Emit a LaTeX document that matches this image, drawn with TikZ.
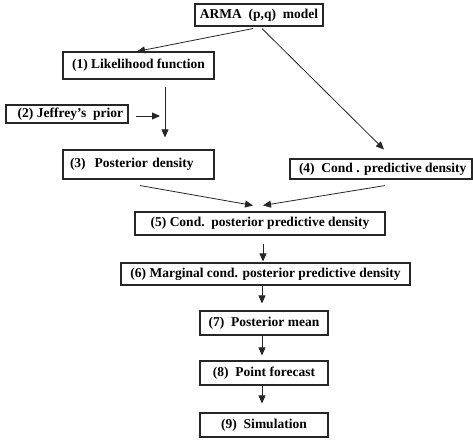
\documentclass[tikz,border=0pt]{standalone}
\usepackage{fontspec}
\setmainfont{Liberation Serif}
\usetikzlibrary{arrows.meta}
\begin{document}
\begin{tikzpicture}[x=1pt,y=-1pt,
  box/.style={draw=black!85,line width=1.1pt,inner sep=0pt,font=\fontsize{13.5}{15}\selectfont\bfseries},
  arr/.style={draw=black!85,line width=0.8pt,-{Triangle[length=8pt,width=7pt]}}]
\useasboundingbox (0,0) rectangle (473,444);
\node[box,minimum width=128pt,minimum height=22pt] (arma) at (259,15) {ARMA\ \ (p,q)\ \ model};
\node[box,minimum width=151pt,minimum height=27pt] (l1) at (138.5,65.5) {(1) Likelihood function};
\node[box,minimum width=122pt,minimum height=18pt] (j2) at (67,114) {\ \ (2) Jeffrey’s\ \ prior};
\node[box,minimum width=151pt,minimum height=29pt,text width=137pt,align=left] (p3) at (138.5,164.5) {(3)\ \ Posterior density};
\node[box,minimum width=182pt,minimum height=20pt] (c4) at (381,169) {\ (4)\ \ Cond . predictive density};
\node[box,minimum width=250pt,minimum height=23pt] (c5) at (260,223.5) {(5) Cond.\ \ posterior predictive density};
\node[box,minimum width=289pt,minimum height=22pt] (m6) at (265.5,274) {(6) Marginal cond. posterior predictive density};
\node[box,minimum width=128pt,minimum height=24pt] (p7) at (264,323) {(7)\ \ Posterior mean};
\node[box,minimum width=128pt,minimum height=24pt] (f8) at (264,373) {(8)\ \ Point forecast};
\node[box,minimum width=128pt,minimum height=24pt] (s9) at (264,425) {(9)\ \ Simulation};
\coordinate (join) at (165,116);
\draw[arr] ([shift={(-6,2)}]arma.south) -- ([xshift=-1.5]l1.north);
\draw[arr] ([shift={(3,2)}]arma.south) -- ([shift={(3,-9)}]c4.north);
\draw[arr] ([shift={(26.5,7)}]l1.south) -- ([shift={(26.5,-12)}]p3.north);
\draw[arr] ([shift={(7,2)}]j2.east) -- ([xshift=-5]join);
\draw[arr] ([shift={(1.5,6)}]p3.south) -- ([shift={(-7,-6)}]c5.north);
\draw[arr] ([shift={(4,6)}]c4.south) -- ([shift={(3,-6)}]c5.north);
\draw[arr] ([shift={(3,8)}]c5.south) -- ([shift={(-2.5,-1)}]m6.north);
\draw[arr] ([shift={(-3.5,0)}]m6.south) -- ([shift={(-2,-7)}]p7.north);
\draw[arr] ([shift={(-2,0)}]p7.south) -- ([shift={(-2,-5)}]f8.north);
\draw[arr] ([shift={(-2,0)}]f8.south) -- ([shift={(-2,-9)}]s9.north);
\end{tikzpicture}
\end{document}
